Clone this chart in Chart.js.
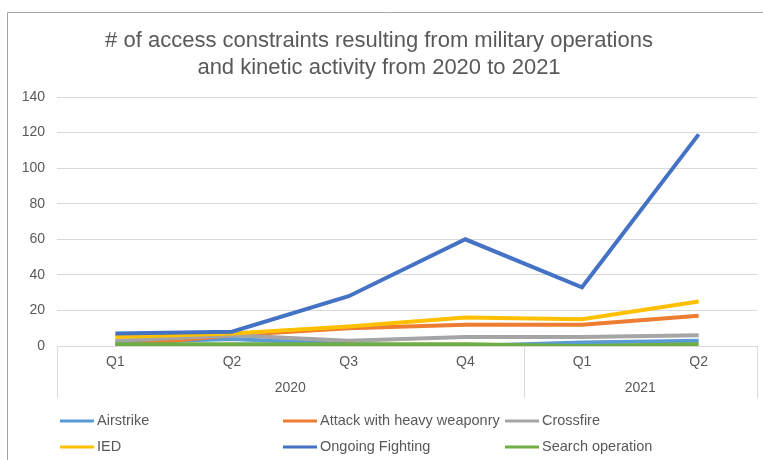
<!DOCTYPE html>
<html>
<head>
<meta charset="utf-8">
<script src="https://cdn.jsdelivr.net/npm/chart.js@4/dist/chart.umd.min.js"></script>
<style>
  html, body { margin: 0; padding: 0; background: #ffffff; }
  #wrap { width: 763px; height: 460px; position: relative; }
</style>
</head>
<body>
<div id="wrap"><canvas id="chart" width="763" height="460"></canvas></div>
<script>
// quarters on the x axis, grouped by year underneath
const quarters = ["Q1", "Q2", "Q3", "Q4", "Q1", "Q2"];
const years = ["2020", "2021"];
const quartersPerYear = [4, 2];

const seriesNames = ["Airstrike", "Attack with heavy weaponry", "Crossfire", "IED", "Ongoing Fighting", "Search operation"];
const airstrike = [2, 4, 1, 0, 2, 3];
const heavyWeaponry = [0, 6, 10, 12, 12, 17];
const crossfire = [3, 6, 3, 5, 5, 6];
const ied = [5, 7, 11, 16, 15, 25];
const ongoingFighting = [7, 8, 28, 60, 33, 119];
const searchOperation = [1, 1, 1, 1, 0, 1];
const seriesColors = ["#5B9BD5", "#ED7D31", "#A5A5A5", "#FFC000", "#4472C4", "#70AD47"];

const yMin = 0;
const yMax = 140;
const yStep = 20;

const titleLines = ["# of access constraints resulting from military operations", "and kinetic activity from 2020 to 2021"];

const FONT = "'Liberation Sans', Arial, sans-serif";
const TEXT = "#595959";
const GRID = "#d9d9d9";

const allSeries = [airstrike, heavyWeaponry, crossfire, ied, ongoingFighting, searchOperation];

const datasets = allSeries.map(function(values, i) {
    return {
        label: seriesNames[i],
        data: values,
        borderColor: seriesColors[i],
        backgroundColor: seriesColors[i],
        borderWidth: 4,
        pointRadius: 0,
        tension: 0,
        fill: false,
        // later series sit on top, like the spreadsheet
        order: allSeries.length - i
    };
});

// outer frame of the chart box
const framePlugin = {
    id: "frame",
    beforeDraw(chart) {
        const ctx = chart.ctx;
        ctx.save();
        ctx.strokeStyle = "#a6a6a6";
        ctx.lineWidth = 1;
        ctx.beginPath();
        ctx.moveTo(7.5, chart.height);
        ctx.lineTo(7.5, 12.5);
        ctx.lineTo(chart.width, 12.5);
        ctx.stroke();
        ctx.restore();
    }
};

const titlePlugin = {
    id: "twoLineTitle",
    afterDraw(chart) {
        const ctx = chart.ctx;
        ctx.save();
        ctx.fillStyle = TEXT;
        ctx.font = "22px " + FONT;
        ctx.textAlign = "center";
        ctx.textBaseline = "middle";
        ctx.fillText(titleLines[0], 379, 41);
        ctx.fillText(titleLines[1], 379, 68);
        ctx.restore();
    }
};

// year row under the quarter labels, with divider lines
const yearAxisPlugin = {
    id: "yearAxis",
    afterDraw(chart) {
        const ctx = chart.ctx;
        const x = chart.scales.x;
        const area = chart.chartArea;
        const half = (x.getPixelForValue(1) - x.getPixelForValue(0)) / 2;
        const top = area.bottom;
        const bottom = area.bottom + 52;

        ctx.save();
        ctx.strokeStyle = GRID;
        ctx.lineWidth = 1;
        ctx.fillStyle = TEXT;
        ctx.font = "14px " + FONT;
        ctx.textAlign = "center";
        ctx.textBaseline = "middle";

        let start = 0;
        const edges = [area.left];
        years.forEach(function(year, i) {
            const end = start + quartersPerYear[i] - 1;
            const left = x.getPixelForValue(start) - half;
            const right = x.getPixelForValue(end) + half;
            edges.push(right);
            ctx.fillText(year, (left + right) / 2, area.bottom + 42);
            start = end + 1;
        });

        edges.forEach(function(px) {
            const p = Math.round(px) + 0.5;
            ctx.beginPath();
            ctx.moveTo(p, top);
            ctx.lineTo(p, bottom);
            ctx.stroke();
        });
        ctx.restore();
    }
};

// legend laid out in a fixed three column grid
const gridLegendPlugin = {
    id: "gridLegend",
    afterDraw(chart) {
        const ctx = chart.ctx;
        const colX = [60, 283, 505];
        const rowY = [421, 447];
        ctx.save();
        ctx.font = "14.5px " + FONT;
        ctx.textBaseline = "middle";
        ctx.textAlign = "left";
        chart.data.datasets.forEach(function(ds, i) {
            const cx = colX[i % 3];
            const cy = rowY[Math.floor(i / 3)];
            ctx.strokeStyle = ds.borderColor;
            ctx.lineWidth = 3;
            ctx.lineCap = "butt";
            ctx.beginPath();
            ctx.moveTo(cx, cy);
            ctx.lineTo(cx + 34, cy);
            ctx.stroke();
            ctx.fillStyle = TEXT;
            ctx.fillText(ds.label, cx + 37, cy);
        });
        ctx.restore();
    }
};

const ctx = document.getElementById("chart").getContext("2d");

const myChart = new Chart(ctx,
{
    type: "line",
    data:
    {
        labels: quarters,
        datasets: datasets
    },
    options:
    {
        responsive: false,
        animation: false,
        devicePixelRatio: 1,
        layout: { padding: { top: 97, right: 6, left: 0, bottom: 0 } },
        plugins:
        {
            legend: { display: false },
            title: { display: false },
            tooltip: { enabled: false }
        },
        scales:
        {
            x:
            {
                offset: true,
                grid: { display: false, drawTicks: false },
                border: { display: true, color: GRID, width: 1 },
                ticks: { color: TEXT, font: { family: FONT, size: 14 }, padding: 8, maxRotation: 0 },
                afterFit(scale) { scale.height = 114; }
            },
            y:
            {
                min: yMin,
                max: yMax,
                grid: { color: GRID, lineWidth: 1, drawTicks: false },
                border: { display: false },
                ticks: { stepSize: yStep, color: TEXT, font: { family: FONT, size: 14 }, padding: 12 },
                afterFit(scale) { scale.width = 57; }
            }
        }
    },
    plugins: [framePlugin, titlePlugin, yearAxisPlugin, gridLegendPlugin]
});
</script>
</body>
</html>
